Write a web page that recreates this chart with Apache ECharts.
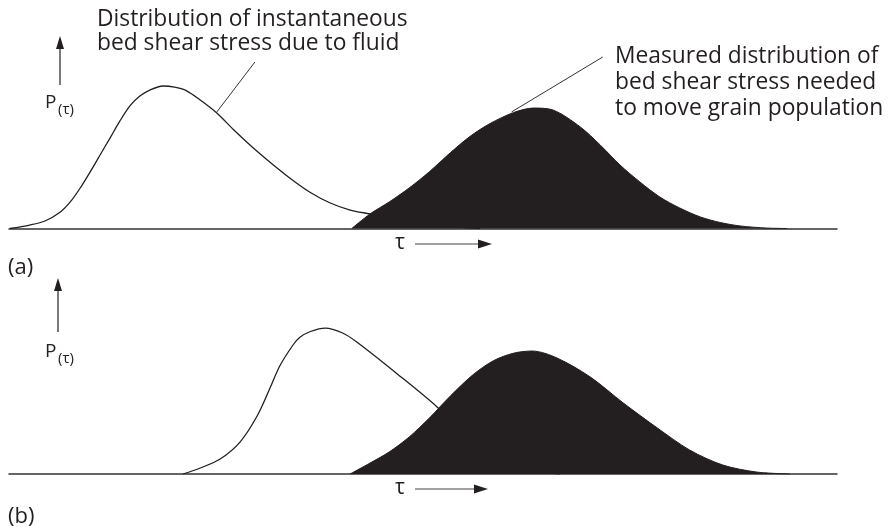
<!DOCTYPE html>
<html>
<head>
<meta charset="utf-8">
<script src="https://cdn.jsdelivr.net/npm/echarts@6/dist/echarts.min.js"></script>
<style>
  html, body { margin: 0; padding: 0; background: #fff; }
  #chart { width: 889px; height: 527px; }
</style>
</head>
<body>
<div id="chart"></div>
<script>
// τ on an arbitrary 0–100 scale; P(τ) as relative frequency (0–1).

// (a) instantaneous bed shear stress due to fluid
const fluidStressA = [
  [0.1, 0], [2.5, 0.023], [4.35, 0.05], [6.2, 0.11], [7.4, 0.177], [8.6, 0.27],
  [9.8, 0.377], [11.0, 0.49], [12.2, 0.603], [13.4, 0.717], [14.6, 0.817],
  [15.8, 0.883], [17.0, 0.923], [18.6, 0.95], [20.0, 0.943], [21.3, 0.923],
  [23.1, 0.857], [25.1, 0.77], [27.1, 0.66], [29.1, 0.557], [31.2, 0.457],
  [33.9, 0.337], [36.4, 0.24], [38.8, 0.17], [41.2, 0.123], [43.6, 0.097],
  [47.2, 0.057], [52.1, 0.017], [56.9, 0]
];
// (a) measured bed shear stress needed to move the grain population
const grainStressA = [
  [41.4, 0], [43.6, 0.097], [46.0, 0.18], [48.4, 0.273], [50.8, 0.38],
  [53.3, 0.505], [55.7, 0.615], [58.1, 0.7], [60.9, 0.772], [63.3, 0.803],
  [65.7, 0.79], [69.0, 0.677], [71.4, 0.557], [73.8, 0.423], [76.2, 0.31],
  [78.6, 0.21], [81.0, 0.137], [83.5, 0.077], [85.9, 0.04], [88.3, 0.017],
  [91.5, 0.003], [94.0, 0]
];
// (b) fluid stress distribution shifted to higher τ
const fluidStressB = [
  [21.0, 0], [23.1, 0.04], [25.5, 0.1], [27.9, 0.213], [30.0, 0.39],
  [31.5, 0.57], [32.7, 0.72], [34.3, 0.86], [35.1, 0.91], [36.4, 0.95], [38.2, 0.973],
  [40.3, 0.94], [42.0, 0.88], [46.9, 0.667], [51.7, 0.447], [55.7, 0.227],
  [59.3, 0.093], [62.9, 0.027], [66.5, 0]
];
// (b) grain population thresholds
const grainStressB = [
  [41.2, 0], [43.6, 0.073], [46.0, 0.15], [48.4, 0.25], [50.8, 0.375],
  [53.3, 0.52], [56.0, 0.66], [58.5, 0.755], [60.9, 0.805],
  [63.2, 0.82], [66.2, 0.773], [70.2, 0.647], [74.2, 0.473], [78.3, 0.307],
  [82.2, 0.16], [86.2, 0.06], [90.3, 0.013], [94.3, 0]
];

// Annotation text
const fluidLabel = ['Distribution of instantaneous', 'bed shear stress due to fluid'];
const grainLabel = ['Measured distribution of', 'bed shear stress needed', 'to move grain population'];
const panelLabels = ['(a)', '(b)'];

const ink = '#231f20';
const font = '"Open Sans", "Noto Sans", sans-serif';

const chart = echarts.init(document.getElementById('chart'), null, { renderer: 'canvas' });

function axisPair(idx) {
  return {
    x: {
      gridIndex: idx, type: 'value', min: 0, max: 100,
      axisLine: { show: true, onZero: true, lineStyle: { color: '#333', width: 1.5 } },
      axisTick: { show: false }, axisLabel: { show: false }, splitLine: { show: false }
    },
    y: { gridIndex: idx, type: 'value', min: 0, max: 1, show: false, splitLine: { show: false } }
  };
}

function panelSeries(idx, fluid, grain) {
  return [
    {
      type: 'line', xAxisIndex: idx, yAxisIndex: idx, data: fluid,
      smooth: 0.3, symbol: 'none', silent: true, z: 2,
      lineStyle: { color: ink, width: 1.3 }
    },
    {
      type: 'line', xAxisIndex: idx, yAxisIndex: idx, data: grain,
      smooth: 0.3, symbol: 'none', silent: true, z: 3,
      lineStyle: { color: ink, width: 1 },
      areaStyle: { color: ink, opacity: 1 }
    }
  ];
}

const a0 = axisPair(0), a1 = axisPair(1);
chart.setOption({
  animation: false,
  backgroundColor: '#fff',
  grid: [
    { left: 9, right: 52, top: 78.5, height: 150 },
    { left: 9, right: 52, top: 324, height: 150 }
  ],
  xAxis: [a0.x, a1.x],
  yAxis: [a0.y, a1.y],
  series: [
    ...panelSeries(0, fluidStressA, grainStressA),
    ...panelSeries(1, fluidStressB, grainStressB)
  ]
});

// Leader lines, anchored on the curves in data space
const toPx = (g, p) => chart.convertToPixel({ gridIndex: g }, p);
const fluidLeader = [toPx(0, [25.1, 0.777]), toPx(0, [29.7, 1.11])];
const grainLeader = [toPx(0, [60.7, 0.777]), toPx(0, [71.7, 1.143])];

function leader(pts) {
  return {
    type: 'line', silent: true, z: 10,
    shape: { x1: pts[0][0], y1: pts[0][1], x2: pts[1][0], y2: pts[1][1] },
    style: { stroke: '#333', lineWidth: 1 }
  };
}

function upArrow(x, tip, bottom) {
  return [
    { type: 'line', silent: true, shape: { x1: x, y1: tip + 10, x2: x, y2: bottom }, style: { stroke: '#333', lineWidth: 1.3 } },
    { type: 'polygon', silent: true, shape: { points: [[x, tip], [x - 4, tip + 13], [x + 4, tip + 13]] }, style: { fill: ink } }
  ];
}

function rightArrow(x1, tip, y) {
  return [
    { type: 'line', silent: true, shape: { x1: x1, y1: y, x2: tip - 8, y2: y }, style: { stroke: '#444', lineWidth: 1.2 } },
    { type: 'polygon', silent: true, shape: { points: [[tip, y], [tip - 14, y - 4.5], [tip - 14, y + 4.5]] }, style: { fill: ink } }
  ];
}

function text(str, x, y, size, extra) {
  return Object.assign({
    type: 'text', silent: true, z: 10,
    style: { text: str, x: x, y: y, font: size + 'px ' + font, fill: ink, verticalAlign: 'middle', align: 'left' }
  }, extra || {});
}

function pTau(x, y) {
  return [
    text('P', x, y, 19),
    text('(τ)', x + 13, y + 7, 15)
  ];
}

chart.setOption({
  graphic: [
    leader(fluidLeader),
    leader(grainLeader),
    {
      type: 'text', silent: true, z: 10,
      style: { text: fluidLabel.join('\n'), x: 97, y: 8, font: '22.8px ' + font, fill: ink, lineHeight: 24, verticalAlign: 'top' }
    },
    {
      type: 'text', silent: true, z: 10,
      style: { text: grainLabel.join('\n'), x: 615, y: 44, font: '22.8px ' + font, fill: ink, lineHeight: 26, verticalAlign: 'top' }
    },
    ...upArrow(60, 36, 85),
    ...pTau(45, 103),
    text('τ', 395, 243, 21),
    ...rightArrow(415, 492, 244),
    text(panelLabels[0], 8, 268, 22),

    ...upArrow(58, 278, 332),
    ...pTau(45, 352),
    text('τ', 395, 488, 21),
    ...rightArrow(415, 488, 489),
    text(panelLabels[1], 8, 517, 22)
  ]
});
</script>
</body>
</html>
